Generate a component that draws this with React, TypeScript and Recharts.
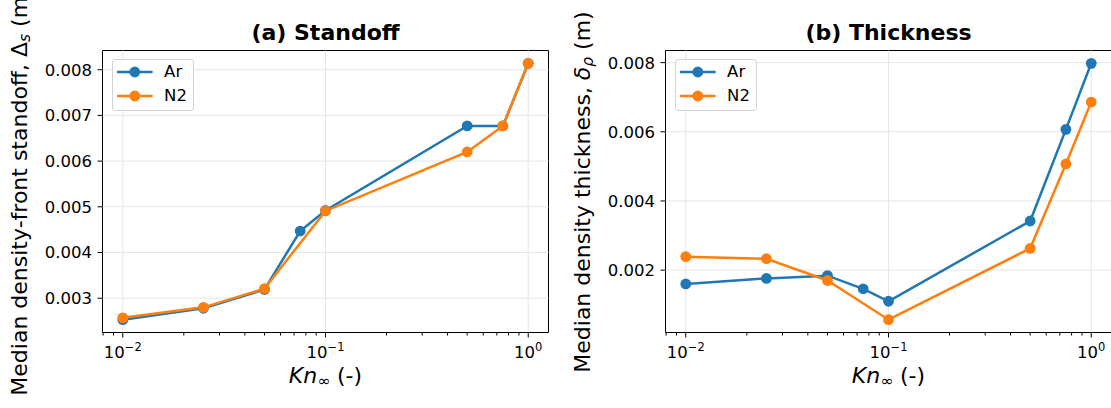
import React from 'react';
import { LineChart, Line, XAxis, YAxis, ReferenceLine, ReferenceArea } from 'recharts';

const FONT = '"DejaVu Sans", sans-serif';
const AR_COLOR = '#1f77b4';
const N2_COLOR = '#ff7f0e';

// Knudsen numbers sampled for each gas (N2 has no 0.075 run)
const knAr = [0.01, 0.025, 0.05, 0.075, 0.1, 0.5, 0.75, 1.0];
const knN2 = [0.01, 0.025, 0.05, 0.1, 0.5, 0.75, 1.0];

// (a) standoff, m
const standoffAr = [0.00253, 0.00278, 0.00319, 0.00447, 0.00492, 0.00677, 0.00677, 0.00814];
const standoffN2 = [0.00257, 0.0028, 0.00321, 0.00491, 0.0062, 0.00677, 0.00814];

// (b) thickness, m
const thicknessAr = [0.0016, 0.00176, 0.00184, 0.00146, 0.0011, 0.00342, 0.00607, 0.00798];
const thicknessN2 = [0.00239, 0.00233, 0.0017, 0.000567, 0.00263, 0.00507, 0.00686];

const xMajorTicks = [0.01, 0.1, 1];
const xTickExponents = ['\u22122', '\u22121', '0'];
const xMinorTicks = [
  0.008, 0.009,
  0.02, 0.03, 0.04, 0.05, 0.06, 0.07, 0.08, 0.09,
  0.2, 0.3, 0.4, 0.5, 0.6, 0.7, 0.8, 0.9,
];
const standoffTicks = [0.003, 0.004, 0.005, 0.006, 0.007, 0.008];
const thicknessTicks = [0.002, 0.004, 0.006, 0.008];

const X_DOMAIN: [number, number] = [Math.pow(10, -2.1), Math.pow(10, 0.1)];

const toPoints = (xs: number[], ys: number[]) => xs.map((x, i) => ({ x, y: ys[i] }));

// matplotlib-style 5% padding around the data
function paddedDomain(...series: number[][]): [number, number] {
  const all = series.flat();
  const lo = Math.min(...all);
  const hi = Math.max(...all);
  const pad = (hi - lo) * 0.05;
  return [lo - pad, hi + pad];
}

const XTick = (props: any) => {
  const { x, y, payload } = props;
  const idx = xMajorTicks.indexOf(payload.value);
  const major = idx >= 0;
  return (
    <g>
      <line x1={x} x2={x} y1={y} y2={y + (major ? 5 : 3)} stroke="#000" strokeWidth={1} />
      {major && (
        <text x={x} y={y + 25.5} textAnchor="middle" fontSize={16.5} fontFamily={FONT} fill="#000">
          <tspan>10</tspan>
          <tspan dy={-7} fontSize={11.5}>{xTickExponents[idx]}</tspan>
        </text>
      )}
    </g>
  );
};

const YTick = (props: any) => {
  const { x, y, payload } = props;
  return (
    <g>
      <line x1={x - 5} x2={x} y1={y} y2={y} stroke="#000" strokeWidth={1} />
      <text x={x - 10.5} y={y} dy="0.36em" textAnchor="end" fontSize={16.5} fontFamily={FONT} fill="#000">
        {payload.value.toFixed(3)}
      </text>
    </g>
  );
};

const sub: React.CSSProperties = { fontSize: '0.7em', position: 'relative', top: '0.22em' };

interface PanelProps {
  left: number;
  yAxisWidth: number;
  marginRight: number;
  title: string;
  yLabel: React.ReactNode;
  yLabelX: number;
  yTicks: number[];
  ar: number[];
  n2: number[];
}

function Panel({ left, yAxisWidth, marginRight, title, yLabel, yLabelX, yTicks, ar, n2 }: PanelProps) {
  const width = 560;
  const height = 408;
  const top = 50.5;
  const xAxisHeight = 75.5;
  const plotLeft = yAxisWidth;
  const plotRight = width - marginRight;
  const plotCx = (plotLeft + plotRight) / 2;
  const plotCy = (top + height - xAxisHeight) / 2;
  const yDomain = paddedDomain(ar, n2);
  const arData = toPoints(knAr, ar);
  const n2Data = toPoints(knN2, n2);
  const legendItems = [
    { name: 'Ar', color: AR_COLOR },
    { name: 'N2', color: N2_COLOR },
  ];

  return (
    <div style={{ position: 'absolute', left, top: 0, width, height }}>
      <LineChart width={width} height={height} margin={{ top, right: marginRight, bottom: 0, left: 0 }}>
        <XAxis
          type="number"
          dataKey="x"
          scale="log"
          domain={X_DOMAIN}
          allowDataOverflow
          ticks={[...xMinorTicks, ...xMajorTicks]}
          interval={0}
          tickSize={0}
          tickMargin={0}
          tick={<XTick />}
          axisLine={false}
          height={xAxisHeight}
        />
        <YAxis
          type="number"
          domain={yDomain}
          allowDataOverflow
          ticks={yTicks}
          interval={0}
          tickSize={0}
          tickMargin={0}
          tick={<YTick />}
          axisLine={false}
          width={yAxisWidth}
        />
        {xMajorTicks.map((v) => (
          <ReferenceLine key={`gx${v}`} x={v} stroke="#e6e6e6" strokeWidth={1} />
        ))}
        {yTicks.map((v) => (
          <ReferenceLine key={`gy${v}`} y={v} stroke="#e6e6e6" strokeWidth={1} />
        ))}
        <Line
          data={arData}
          dataKey="y"
          type="linear"
          stroke={AR_COLOR}
          strokeWidth={2.5}
          dot={{ r: 5.4, fill: AR_COLOR, stroke: AR_COLOR, strokeWidth: 0 }}
          activeDot={false}
          isAnimationActive={false}
        />
        <Line
          data={n2Data}
          dataKey="y"
          type="linear"
          stroke={N2_COLOR}
          strokeWidth={2.5}
          dot={{ r: 5.4, fill: N2_COLOR, stroke: N2_COLOR, strokeWidth: 0 }}
          activeDot={false}
          isAnimationActive={false}
        />
        <ReferenceArea
          x1={X_DOMAIN[0]}
          x2={X_DOMAIN[1]}
          y1={yDomain[0]}
          y2={yDomain[1]}
          fill="none"
          fillOpacity={0}
          stroke="#000"
          strokeWidth={1}
          ifOverflow="visible"
        />
      </LineChart>

      <div
        style={{
          position: 'absolute',
          left: plotCx,
          top: 33,
          transform: 'translate(-50%, -50%)',
          fontSize: 22,
          fontWeight: 'bold',
          lineHeight: 1,
          whiteSpace: 'nowrap',
        }}
      >
        {title}
      </div>

      <div
        style={{
          position: 'absolute',
          left: plotCx,
          top: 376,
          transform: 'translate(-50%, -50%)',
          fontSize: 22,
          lineHeight: 1,
          whiteSpace: 'nowrap',
        }}
      >
        <i>Kn</i>
        <span style={sub}>∞</span> (-)
      </div>

      <div
        style={{
          position: 'absolute',
          left: yLabelX,
          top: plotCy,
          transform: 'translate(-50%, -50%) rotate(-90deg)',
          fontSize: 22,
          lineHeight: 1,
          whiteSpace: 'nowrap',
        }}
      >
        {yLabel}
      </div>

      <div
        style={{
          position: 'absolute',
          left: plotLeft + 9,
          top: 59,
          width: 82,
          height: 52,
          boxSizing: 'border-box',
          border: '1px solid #d3d3d3',
          borderRadius: 3,
          background: 'rgba(255,255,255,0.8)',
        }}
      >
        {legendItems.map((item, i) => (
          <div key={item.name} style={{ position: 'absolute', left: 0, top: 2 + i * 24.4, width: 80, height: 20 }}>
            <svg width={46} height={20} style={{ position: 'absolute', left: 0, top: 0 }}>
              <line x1={4} x2={39.6} y1={10} y2={10} stroke={item.color} strokeWidth={2.5} />
              <circle cx={21.8} cy={10} r={5.4} fill={item.color} />
            </svg>
            <span style={{ position: 'absolute', left: 51.6, top: 0, fontSize: 16.5, lineHeight: '20px' }}>
              {item.name}
            </span>
          </div>
        ))}
      </div>
    </div>
  );
}

export default function App() {
  return (
    <div
      style={{
        position: 'absolute',
        left: 0,
        top: 0,
        width: 1111,
        height: 408,
        overflow: 'hidden',
        background: '#fff',
        fontFamily: FONT,
        color: '#000',
      }}
    >
      <Panel
        left={0}
        yAxisWidth={102.5}
        marginRight={11.5}
        title="(a) Standoff"
        yLabel={
          <>
            Median density-front standoff, Δ<i style={sub}>s</i> (m)
          </>
        }
        yLabelX={20}
        yTicks={standoffTicks}
        ar={standoffAr}
        n2={standoffN2}
      />
      <Panel
        left={560}
        yAxisWidth={105.5}
        marginRight={8.5}
        title="(b) Thickness"
        yLabel={
          <>
            Median density thickness, <i>δ</i>
            <i style={sub}>ρ</i> (m)
          </>
        }
        yLabelX={23}
        yTicks={thicknessTicks}
        ar={thicknessAr}
        n2={thicknessN2}
      />
    </div>
  );
}
